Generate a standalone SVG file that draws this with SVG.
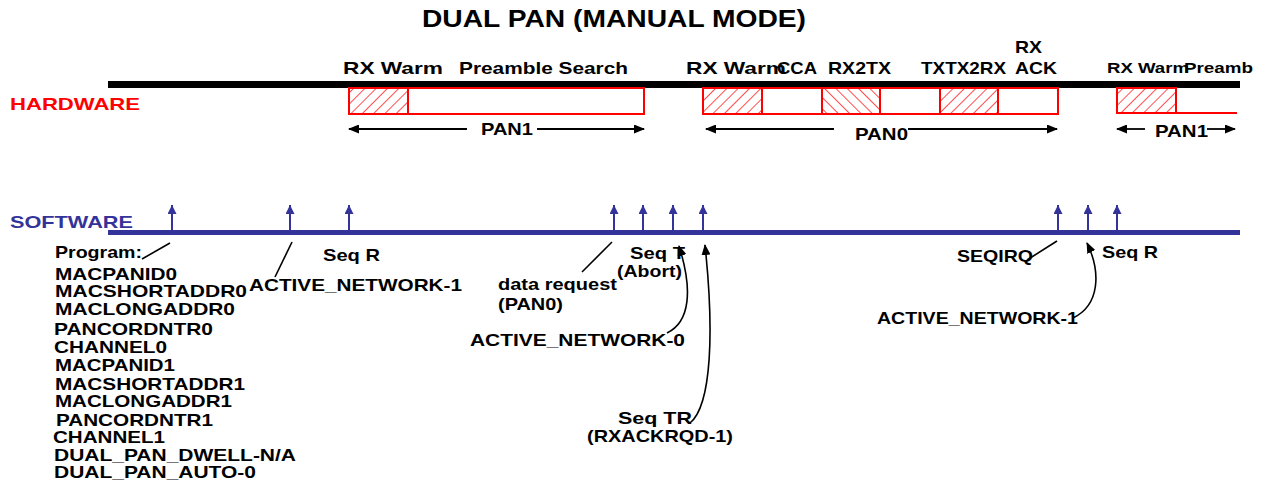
<svg xmlns="http://www.w3.org/2000/svg" width="1263" height="484" viewBox="0 0 1263 484">
<style>
.t{font-family:"Liberation Sans",Arial,sans-serif;font-weight:bold;fill:#000;font-size:17px}
.sm{font-size:14px}
.box{fill:none;stroke:#ff0000;stroke-width:2}
.hatchF{fill:url(#hf);stroke:#ff0000;stroke-width:2}
.hatchB{fill:url(#hb);stroke:#ff0000;stroke-width:2}
.dbl{stroke:#000;stroke-width:1.8;fill:none;marker-end:url(#ah)}
.con{stroke:#000;stroke-width:1.6;fill:none}
.conA{stroke:#000;stroke-width:1.6;fill:none;marker-end:url(#ah)}
.up{stroke:#333399;stroke-width:2;marker-end:url(#bh)}
</style>
<defs>
<pattern id="hf" patternUnits="userSpaceOnUse" width="8" height="8" patternTransform="rotate(45)">
<line x1="0" y1="0" x2="0" y2="8" stroke="#ff0000" stroke-width="1.4"/>
</pattern>
<pattern id="hb" patternUnits="userSpaceOnUse" width="8" height="8" patternTransform="rotate(-45)">
<line x1="0" y1="0" x2="0" y2="8" stroke="#ff0000" stroke-width="1.4"/>
</pattern>
<marker id="ah" markerUnits="userSpaceOnUse" markerWidth="11" markerHeight="9" refX="10" refY="4.5" orient="auto" viewBox="0 0 11 9">
<path d="M0,0 L11,4.5 L0,9 Z" fill="#000"/>
</marker>
<marker id="bh" markerUnits="userSpaceOnUse" markerWidth="9" markerHeight="9" refX="9" refY="4.5" orient="auto" viewBox="0 0 9 9">
<path d="M0,0 L9,4.5 L0,9 Z" fill="#333399"/>
</marker>
</defs>
<rect width="1263" height="484" fill="#fff"/>
<text class="t" x="422" y="27" style="font-size:24px" textLength="384" lengthAdjust="spacingAndGlyphs">DUAL PAN (MANUAL MODE)</text>

<g id="hardware">
<text class="t" x="10" y="110" style="fill:#ff0000" textLength="130" lengthAdjust="spacingAndGlyphs">HARDWARE</text>
<rect x="108" y="81" width="1132" height="7" fill="#000"/>
</g>

<g id="pan1-a">
<rect class="hatchF" x="349" y="88" width="59" height="26"/>
<rect class="box" x="408" y="88" width="236" height="26"/>
<text class="t" x="343" y="74" textLength="100" lengthAdjust="spacingAndGlyphs">RX Warm</text>
<text class="t" x="459" y="74" textLength="169" lengthAdjust="spacingAndGlyphs">Preamble Search</text>
<line class="dbl" x1="467" y1="129" x2="349" y2="129"/>
<line class="dbl" x1="537" y1="129" x2="644" y2="129"/>
<text class="t" x="481" y="135" textLength="52" lengthAdjust="spacingAndGlyphs">PAN1</text>
</g>

<g id="pan0">
<rect class="hatchF" x="703" y="88" width="59" height="26"/>
<rect class="box" x="762" y="88" width="60" height="26"/>
<rect class="hatchB" x="822" y="88" width="58" height="26"/>
<rect class="box" x="880" y="88" width="60" height="26"/>
<rect class="hatchF" x="940" y="88" width="58" height="26"/>
<rect class="box" x="998" y="88" width="60" height="26"/>
<text class="t" x="686" y="74" textLength="100" lengthAdjust="spacingAndGlyphs">RX Warm</text>
<text class="t" x="777" y="74" textLength="40" lengthAdjust="spacingAndGlyphs">CCA</text>
<text class="t" x="828" y="74" textLength="63" lengthAdjust="spacingAndGlyphs">RX2TX</text>
<text class="t" x="921" y="74" textLength="85" lengthAdjust="spacingAndGlyphs">TXTX2RX</text>
<text class="t" x="1015" y="53" textLength="27" lengthAdjust="spacingAndGlyphs">RX</text>
<text class="t" x="1015" y="74" textLength="42" lengthAdjust="spacingAndGlyphs">ACK</text>
<line class="dbl" x1="834" y1="129" x2="706" y2="129"/>
<line class="dbl" x1="908" y1="129" x2="1057" y2="129"/>
<text class="t" x="855" y="140" textLength="53" lengthAdjust="spacingAndGlyphs">PAN0</text>
</g>

<g id="pan1-b">
<rect class="hatchF" x="1117" y="88" width="59" height="25"/>
<path d="M1176,113 L1237,113" stroke="#ff0000" stroke-width="2"/>
<text class="t sm" x="1107" y="73" style="font-size:14px" textLength="82" lengthAdjust="spacingAndGlyphs">RX Warm</text>
<text class="t sm" x="1184" y="73" style="font-size:14px" textLength="69" lengthAdjust="spacingAndGlyphs">Preamb</text>
<line class="dbl" x1="1145" y1="129" x2="1117" y2="129"/>
<line class="dbl" x1="1207" y1="129" x2="1235" y2="129"/>
<text class="t" x="1155" y="137" textLength="53" lengthAdjust="spacingAndGlyphs">PAN1</text>
</g>

<g id="software">
<text class="t" x="10" y="228" style="fill:#333399" textLength="123" lengthAdjust="spacingAndGlyphs">SOFTWARE</text>
<rect x="108" y="230" width="1132" height="5" fill="#333399"/>
</g>

<g id="events">
<line class="up" x1="172" y1="231" x2="172" y2="205"/>
<line class="up" x1="290" y1="231" x2="290" y2="205"/>
<line class="up" x1="349" y1="231" x2="349" y2="205"/>
<line class="up" x1="614" y1="231" x2="614" y2="205"/>
<line class="up" x1="643" y1="231" x2="643" y2="205"/>
<line class="up" x1="673" y1="231" x2="673" y2="205"/>
<line class="up" x1="703" y1="231" x2="703" y2="205"/>
<line class="up" x1="1058" y1="231" x2="1058" y2="205"/>
<line class="up" x1="1088" y1="231" x2="1088" y2="205"/>
<line class="up" x1="1117" y1="231" x2="1117" y2="205"/>
</g>

<g id="program-list">
<text class="t" x="55" y="258" textLength="87" lengthAdjust="spacingAndGlyphs">Program:</text>
<text class="t" x="55" y="280" textLength="122" lengthAdjust="spacingAndGlyphs">MACPANID0</text>
<text class="t" x="55" y="297" textLength="192" lengthAdjust="spacingAndGlyphs">MACSHORTADDR0</text>
<text class="t" x="55" y="315" textLength="180" lengthAdjust="spacingAndGlyphs">MACLONGADDR0</text>
<text class="t" x="54" y="335" textLength="159" lengthAdjust="spacingAndGlyphs">PANCORDNTR0</text>
<text class="t" x="54" y="353" textLength="113" lengthAdjust="spacingAndGlyphs">CHANNEL0</text>
<text class="t" x="55" y="371" textLength="120" lengthAdjust="spacingAndGlyphs">MACPANID1</text>
<text class="t" x="55" y="390" textLength="190" lengthAdjust="spacingAndGlyphs">MACSHORTADDR1</text>
<text class="t" x="55" y="407" textLength="177" lengthAdjust="spacingAndGlyphs">MACLONGADDR1</text>
<text class="t" x="56" y="426" textLength="157" lengthAdjust="spacingAndGlyphs">PANCORDNTR1</text>
<text class="t" x="53" y="443" textLength="112" lengthAdjust="spacingAndGlyphs">CHANNEL1</text>
<text class="t" x="54" y="461" textLength="242" lengthAdjust="spacingAndGlyphs">DUAL_PAN_DWELL-N/A</text>
<text class="t" x="54" y="478" textLength="202" lengthAdjust="spacingAndGlyphs">DUAL_PAN_AUTO-0</text>
</g>

<g id="labels">
<text class="t" x="249" y="291" textLength="213" lengthAdjust="spacingAndGlyphs">ACTIVE_NETWORK-1</text>
<text class="t" x="323" y="261" textLength="57" lengthAdjust="spacingAndGlyphs">Seq R</text>
<text class="t" x="498" y="290" textLength="119" lengthAdjust="spacingAndGlyphs">data request</text>
<text class="t" x="498" y="310" textLength="65" lengthAdjust="spacingAndGlyphs">(PAN0)</text>
<text class="t" x="630" y="259" textLength="55" lengthAdjust="spacingAndGlyphs">Seq T</text>
<text class="t" x="617" y="277" textLength="65" lengthAdjust="spacingAndGlyphs">(Abort)</text>
<text class="t" x="470" y="346" textLength="215" lengthAdjust="spacingAndGlyphs">ACTIVE_NETWORK-0</text>
<text class="t" x="618" y="424" textLength="74" lengthAdjust="spacingAndGlyphs">Seq  TR</text>
<text class="t" x="587" y="442" textLength="146" lengthAdjust="spacingAndGlyphs">(RXACKRQD-1)</text>
<text class="t" x="957" y="262" textLength="76" lengthAdjust="spacingAndGlyphs">SEQIRQ</text>
<text class="t" x="1102" y="258" textLength="56" lengthAdjust="spacingAndGlyphs">Seq R</text>
<text class="t" x="877" y="324" textLength="201" lengthAdjust="spacingAndGlyphs">ACTIVE_NETWORK-1</text>
</g>

<g id="connectors">
<line class="con" x1="170" y1="243" x2="142" y2="259"/>
<line class="con" x1="292" y1="242" x2="275" y2="277"/>
<line class="con" x1="612" y1="242" x2="582" y2="272"/>
<path class="conA" d="M667,333 C690,322 693,290 679,246"/>
<path class="conA" d="M690,423 C712,405 714,330 705,245"/>
<line class="con" x1="1057" y1="241" x2="1027" y2="260"/>
<path class="conA" d="M1073,318 C1100,305 1101,272 1087,243"/>
</g>
</svg>
